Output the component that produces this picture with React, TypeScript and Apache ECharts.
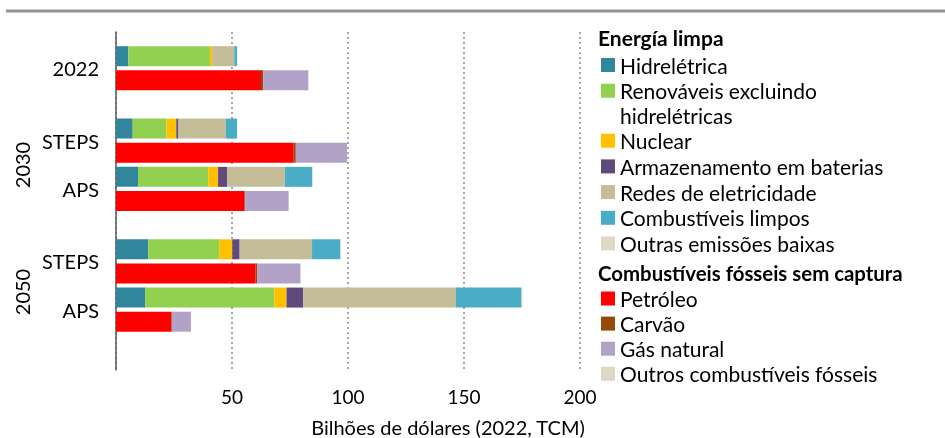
import React, { useEffect, useRef } from "react";
import * as echarts from "echarts";

// ---- Data ----
const scenarios = ["2022", "STEPS 2030", "APS 2030", "STEPS 2050", "APS 2050"];
const scenarioLabels = ["2022", "STEPS", "APS", "STEPS", "APS"];
const groupLabels = ["2030", "2050"];
const xTicks = [0, 50, 100, 150, 200];

// Energia limpa (bilhões USD)
const hidreletrica = [5.3, 7.2, 9.5, 13.9, 12.6];
const renovaveis = [35.2, 14.5, 30.3, 30.6, 55.6];
const nuclear = [0.9, 4.3, 4.2, 5.6, 5.3];
const baterias = [0.1, 0.9, 3.9, 3.2, 7.2];
const redes = [9.5, 20.4, 24.9, 31.2, 65.8];
const combustiveisLimpos = [1.2, 4.9, 11.8, 12.2, 28.3];
const outrasEmissoes = [0, 0, 0, 0.3, 0.4];

// Combustíveis fósseis sem captura
const petroleo = [62.5, 76.6, 55.3, 60.2, 23.8];
const carvao = [0.9, 0.9, 0.4, 0.6, 0.3];
const gasNatural = [19.5, 22.1, 18.7, 18.7, 8.2];
const outrosFosseis = [0, 0, 0, 0, 0];

const cleanNames = [
  "Hidrelétrica",
  "Renováveis excluindo hidrelétricas",
  "Nuclear",
  "Armazenamento em baterias",
  "Redes de eletricidade",
  "Combustíveis limpos",
  "Outras emissões baixas",
];
const fossilNames = ["Petróleo", "Carvão", "Gás natural", "Outros combustíveis fósseis"];

// ---- Styles / layout ----
const cleanColors = ["#31859C", "#92D050", "#FFC000", "#604A7B", "#C4BD97", "#4BACC6", "#DDD9C3"];
const fossilColors = ["#FF0000", "#984807", "#B3A2C7", "#DDD9C3"];
const FONT = "Lato";
const SLOTS = 29;
const cleanSlot = [2, 8, 12, 18, 22];
const fossilSlot = [4, 10, 14, 20, 24];
const labelSlot = [3, 9, 13, 19, 23];

export default function App() {
  const ref = useRef<HTMLDivElement>(null);
  useEffect(() => {
    if (!ref.current) return;
    const chart = echarts.init(ref.current, null, { renderer: "svg" });

    const cats: string[] = [];
    for (let k = 0; k < SLOTS; k++) {
      const li = labelSlot.indexOf(k);
      cats.push(li >= 0 ? scenarios[li] : "slot" + k);
    }
    const makeData = (vals: number[], slots: number[]) => {
      const arr: (number | null)[] = new Array(SLOTS).fill(null);
      vals.forEach((v, i) => (arr[slots[i]] = v));
      return arr;
    };
    const cleanVals = [hidreletrica, renovaveis, nuclear, baterias, redes, combustiveisLimpos, outrasEmissoes];
    const fossilVals = [petroleo, carvao, gasNatural, outrosFosseis];
    const series: any[] = [];
    cleanNames.forEach((n, i) =>
      series.push({
        name: n,
        type: "bar",
        stack: "total",
        barWidth: 20,
        itemStyle: { color: cleanColors[i] },
        data: makeData(cleanVals[i], cleanSlot),
      })
    );
    fossilNames.forEach((n, i) =>
      series.push({
        name: n,
        type: "bar",
        stack: "total",
        barWidth: 20,
        itemStyle: { color: fossilColors[i] },
        data: makeData(fossilVals[i], fossilSlot),
      })
    );

    const legendBase = {
      orient: "vertical",
      left: 601,
      padding: 0,
      itemWidth: 14,
      itemHeight: 14,
      icon: "rect",
      selectedMode: false,
    };

    chart.setOption({
      animation: false,
      textStyle: { fontFamily: FONT },
      grid: { left: 116, right: 365, top: 32, bottom: 68 },
      xAxis: {
        type: "value",
        min: xTicks[0],
        max: xTicks[xTicks.length - 1],
        interval: xTicks[1] - xTicks[0],
        axisLine: { show: false },
        axisTick: { show: false },
        axisLabel: {
          margin: 17,
          fontSize: 19,
          color: "#000",
          fontFamily: FONT,
          formatter: (v: number) => (v === 0 ? "" : String(v)),
        },
        splitLine: { show: true, lineStyle: { color: "#A6A6A6", type: [2, 3], width: 2 } },
      },
      yAxis: {
        type: "category",
        inverse: true,
        boundaryGap: false,
        data: cats,
        axisLine: { show: true, lineStyle: { color: "#595959", width: 1.5 } },
        axisTick: { show: false },
        splitLine: { show: false },
        axisLabel: {
          interval: (idx: number) => labelSlot.indexOf(idx) >= 0,
          formatter: (v: string) => {
            const i = scenarios.indexOf(v);
            return i >= 0 ? scenarioLabels[i] : "";
          },
          margin: 17,
          fontSize: 20,
          color: "#000",
          fontFamily: FONT,
        },
      },
      legend: [
        {
          ...legendBase,
          top: 54.5,
          itemGap: 4.7,
          data: cleanNames.slice(0, 2),
          formatter: (n: string) => (n === cleanNames[1] ? "Renováveis excluindo" : n),
          textStyle: { fontSize: 21, lineHeight: 21, color: "#000", fontFamily: FONT },
        },
        {
          ...legendBase,
          top: 130.2,
          itemGap: 4.7,
          data: cleanNames.slice(2),
          textStyle: { fontSize: 21, lineHeight: 21, color: "#000", fontFamily: FONT },
        },
        {
          ...legendBase,
          top: 288,
          itemGap: 4.1,
          data: fossilNames,
          textStyle: { fontSize: 21, lineHeight: 21, color: "#000", fontFamily: FONT },
        },
      ],
      graphic: [
        {
          type: "line",
          shape: { x1: 6, y1: 11, x2: 945, y2: 11 },
          style: { stroke: "#939393", lineWidth: 3 },
        },
        {
          type: "text",
          x: 598,
          y: 37,
          style: {
            text: "Energía limpa",
            fontSize: 21,
            lineHeight: 20,
            fontWeight: "bold",
            fontFamily: FONT,
            fill: "#000",
            verticalAlign: "middle",
          },
        },
        {
          type: "text",
          x: 620,
          y: 115,
          style: { text: "hidrelétricas", fontSize: 21, lineHeight: 20, fontFamily: FONT, fill: "#000", verticalAlign: "middle" },
        },
        {
          type: "text",
          x: 598,
          y: 273,
          style: {
            text: "Combustíveis fósseis sem captura",
            fontSize: 20.4,
            lineHeight: 20,
            fontWeight: "bold",
            fontFamily: FONT,
            fill: "#000",
            verticalAlign: "middle",
          },
        },
        {
          type: "text",
          x: 22,
          y: 165,
          rotation: Math.PI / 2,
          style: { text: groupLabels[0], fontSize: 20, fontFamily: FONT, fill: "#000", align: "center", verticalAlign: "middle" },
        },
        {
          type: "text",
          x: 22,
          y: 292,
          rotation: Math.PI / 2,
          style: { text: groupLabels[1], fontSize: 20, fontFamily: FONT, fill: "#000", align: "center", verticalAlign: "middle" },
        },
        {
          type: "text",
          x: 448,
          y: 427,
          style: {
            text: "Bilhões de dólares (2022, TCM)",
            fontSize: 20,
            fontFamily: FONT,
            fill: "#000",
            align: "center",
            verticalAlign: "middle",
          },
        },
      ],
      series,
    });
    return () => chart.dispose();
  }, []);
  return <div ref={ref} style={{ position: "fixed", left: 0, top: 0, width: 945, height: 438 }} />;
}
